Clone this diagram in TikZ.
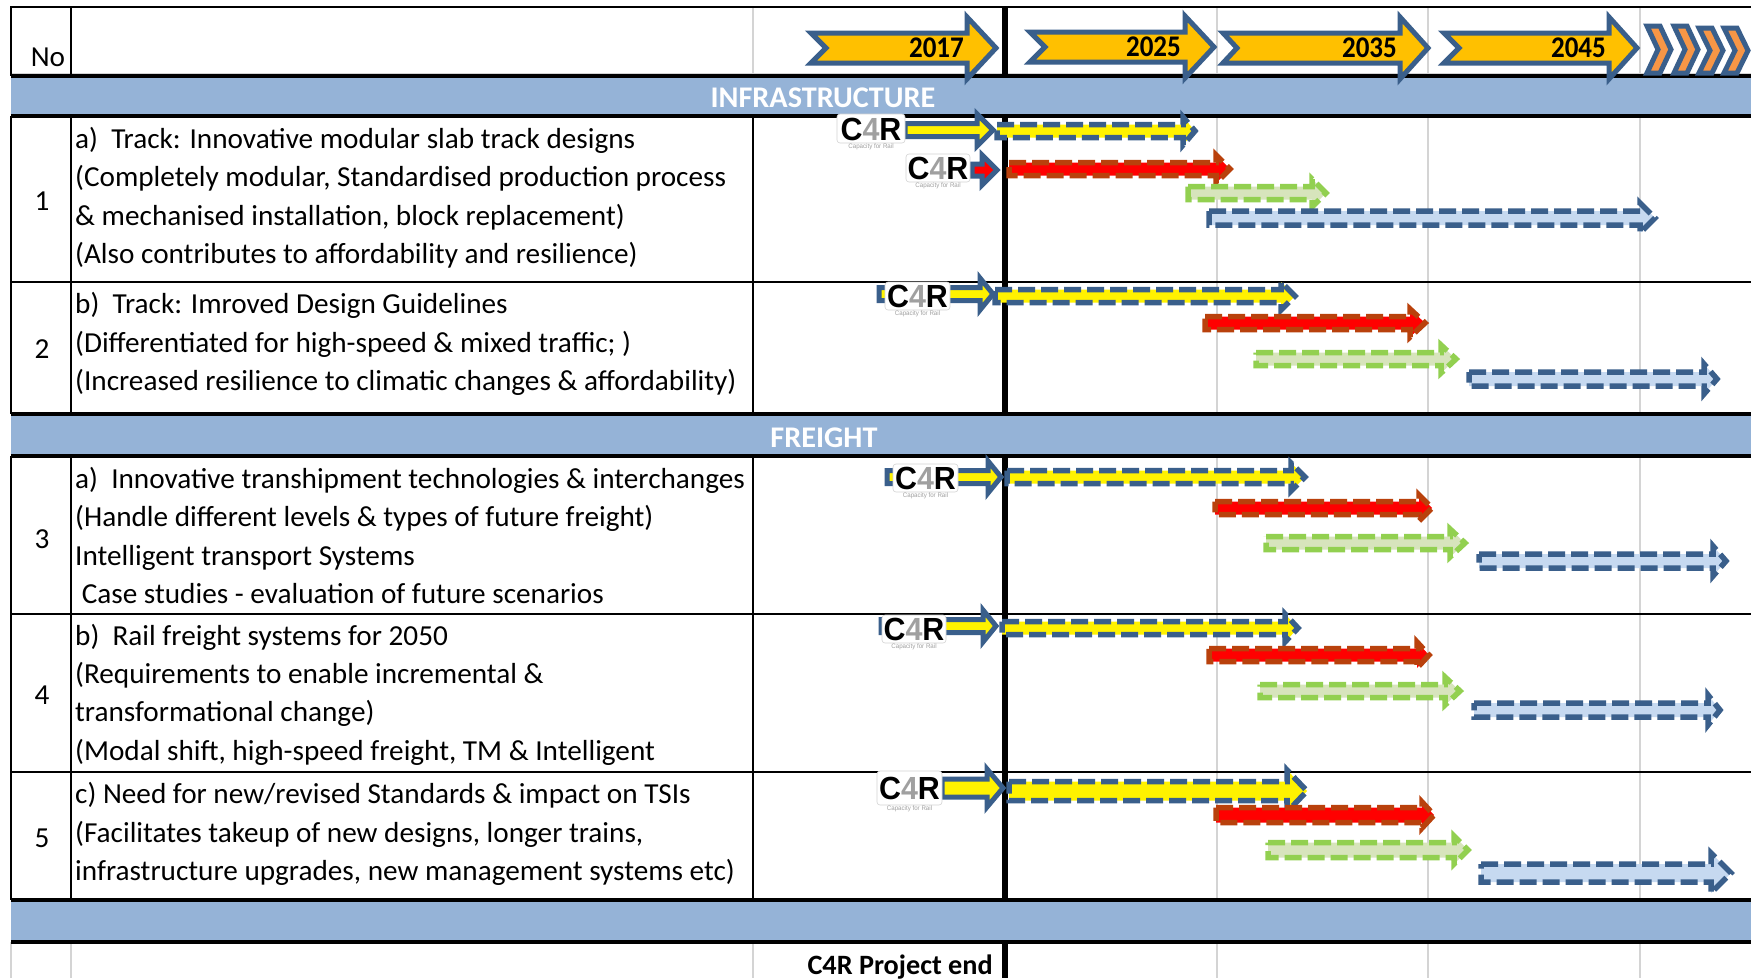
\documentclass[tikz,border=0pt]{standalone}
\usepackage{fontspec}
\setmainfont{Carlito}[FakeStretch=1.008]
\newfontfamily\yearfont{Carlito}[FakeStretch=0.9]
\newfontfamily\logofont{Liberation Sans}[FakeStretch=0.95]
\definecolor{bandblue}{HTML}{95B3D7}
\definecolor{edgeblue}{HTML}{3A5F8B}
\definecolor{yearfill}{HTML}{FFC000}
\definecolor{orangefill}{HTML}{F79646}
\definecolor{redfill}{HTML}{FF0000}
\definecolor{rededge}{HTML}{B9410C}
\definecolor{greenfill}{HTML}{D7E4BC}
\definecolor{greenedge}{HTML}{92D050}
\definecolor{bluefill}{HTML}{C6D9F0}
\definecolor{gridgrey}{HTML}{D4D4D4}
\definecolor{logogrey}{HTML}{A0A0A0}
\tikzset{
  rowtext/.style={anchor=base west,inner sep=0pt,font=\fontsize{29}{29}\selectfont},
  numtext/.style={inner sep=0pt,font=\fontsize{29}{29}\selectfont},
  bandtext/.style={inner sep=0pt,text=white,font=\fontsize{30}{30}\selectfont\bfseries},
  yeartext/.style={anchor=base east,inner sep=0pt,font=\fontsize{30}{30}\selectfont\yearfont\bfseries},
  endtext/.style={anchor=base east,inner sep=0pt,font=\fontsize{28}{28}\selectfont\bfseries},
  thinrule/.style={draw=black,line width=2pt},
  thickrule/.style={draw=black,line width=4pt},
  gridrule/.style={draw=gridgrey,line width=1.6pt},
  band/.style={fill=bandblue,draw=none},
  yeararrow/.style={fill=yearfill,draw=edgeblue,line width=5pt,miter limit=8},
  chevron/.style={fill=orangefill,draw=edgeblue,line width=5pt,miter limit=8},
  logobox/.style={fill=white,draw=gridgrey,line width=.6pt,rounded corners=3pt},
  logotext/.style={inner sep=0pt,text height=22pt,text depth=0pt,font=\fontsize{32}{32}\selectfont\logofont\bfseries},
  logosub/.style={inner sep=0pt,text=logogrey,font=\fontsize{6.5}{6.5}\selectfont\logofont},
}
% fill, edge, x0, head base, tip, cy, shaft half, head half
\newcommand{\solidarrow}[8]{%
  \draw[fill=#1,draw=#2,line width=5pt,miter limit=8]
    (#3,#6-#7) -- (#4,#6-#7) -- (#4,#6-#8) -- (#5,#6) -- (#4,#6+#8) -- (#4,#6+#7) -- (#3,#6+#7) -- cycle;}
\newcommand{\dasharrow}[8]{%
  \fill[#1] (#3,#6-#7) -- (#4,#6-#7) -- (#4,#6-#8) -- (#5+1,#6) -- (#4,#6+#8) -- (#4,#6+#7) -- (#3,#6+#7) -- cycle;
  \draw[draw=#2,line width=5.5pt,dash pattern=on 17pt off 6pt,miter limit=8]
    (#3,#6-#7) -- (#4,#6-#7) -- (#4,#6-#8) -- (#5+1,#6) -- (#4,#6+#8) -- (#4,#6+#7) -- (#3,#6+#7) -- cycle;}
% name, left, top, right, bottom
\newcommand{\clogo}[5]{%
  \path[logobox] (#2,#3) rectangle (#4,#5);
  \node[logotext] (#1) at ({(#2+#4)/2},{(#3+#5)/2+.5}) {C\textcolor{logogrey}{4}R};
  \node[logosub] (#1sub) at ({(#2+#4)/2},#5+3.5) {Capacity for Rail};}
\newcommand{\yeararr}[5]{% tail, notch, base, tip, cy
  \path[yeararrow] (#1,#5-15) -- (#3,#5-15) -- (#3,#5-31) -- (#4,#5) -- (#3,#5+31) -- (#3,#5+15) -- (#1,#5+15) -- (#2,#5) -- cycle;}
\newcommand{\chev}[3]{% left, top, bottom
  \path[chevron] (#1+3,#2) -- (#1+16,#2) -- (#1+27,{(#2+#3)/2}) -- (#1+16,#3) -- (#1+3,#3) -- (#1+14,{(#2+#3)/2}) -- cycle;}
\begin{document}
\begin{tikzpicture}[x=1pt,y=-1pt]
\useasboundingbox (0,0) rectangle (1751,978);
\fill[white] (0,0) rectangle (1751,978);
\begin{scope}
\clip (0,0) rectangle (1751,978);
% light grid
\draw[gridrule] (753,7) -- (753,76);
\draw[gridrule] (1217,7) -- (1217,978);
\draw[gridrule] (1428,7) -- (1428,978);
\draw[gridrule] (1640,7) -- (1640,978);
\draw[gridrule] (11,942) -- (11,978);
\draw[gridrule] (71,942) -- (71,978);
\draw[gridrule] (753,942) -- (753,978);
\draw[gridrule] (11,74) -- (1751,74);
% bands
\path[band] (11,77) rectangle (1751,114);
\path[band] (11,416) rectangle (1751,454);
\path[band] (11,902) rectangle (1751,941);
% rules
\draw[line width=2pt] (10,7) -- (1751,7);
\foreach \xx in {11,71} {
  \draw[thinrule] (\xx,7) -- (\xx,76);
  \draw[thinrule] (\xx,116) -- (\xx,414);
  \draw[thinrule] (\xx,456) -- (\xx,900);
}
\draw[thinrule] (753,116) -- (753,414);
\draw[thinrule] (753,456) -- (753,900);
\draw[thickrule] (11,76) -- (1751,76);
\draw[thickrule] (11,116) -- (1751,116);
\draw[thinrule] (11,282) -- (1751,282);
\draw[thickrule] (11,414) -- (1751,414);
\draw[thickrule] (11,456) -- (1751,456);
\draw[thinrule] (11,614) -- (1751,614);
\draw[thinrule] (11,772) -- (1751,772);
\draw[thickrule] (11,900) -- (1751,900);
\draw[thickrule] (11,942) -- (1751,942);
\draw[line width=6pt] (1004.5,7) -- (1004.5,76);
\draw[line width=6pt] (1004.5,116) -- (1004.5,414);
\draw[line width=6pt] (1004.5,456) -- (1004.5,900);
\draw[line width=6pt] (1004.5,942) -- (1004.5,978);
% year arrows
\yeararr{811}{826}{967}{996}{48}
\yeararr{1030}{1045}{1185}{1214}{47}
\yeararr{1223}{1237}{1400}{1428}{48}
\yeararr{1444}{1459}{1609}{1637}{48}
\node[yeartext] (y2017) at (964,57) {2017};
\node[yeartext] (y2025) at (1181,56) {2025};
\node[yeartext] (y2035) at (1397,57) {2035};
\node[yeartext] (y2045) at (1606,57) {2045};
\chev{1644}{26}{73}
\chev{1671}{26}{73}
\chev{1696}{28}{73}
\chev{1721}{28}{73}
% labels
\node[numtext] (no) at (48,57) {No};
\node[bandtext] (infra) at (823,98) {INFRASTRUCTURE};
\node[bandtext] (freight) at (824,438) {FREIGHT};
\node[numtext] (n1) at (42,201) {1};
\node[numtext] (n2) at (42,349) {2};
\node[numtext] (n3) at (42,539) {3};
\node[numtext] (n4) at (42,695) {4};
\node[numtext] (n5) at (42,838) {5};
\node[rowtext] (t1a) at (75,148) {a)\ \ Track: Innovative modular slab track designs};
\node[rowtext] (t1b) at (75,186) {(Completely modular, Standardised production process};
\node[rowtext] (t1c) at (75,225) {\&\ mechanised installation, block replacement)};
\node[rowtext] (t1d) at (75,263) {(Also contributes to affordability and resilience)};
\node[rowtext] (t2a) at (75,313) {b)\ \ Track: Imroved Design Guidelines};
\node[rowtext] (t2b) at (75,352) {(Differentiated for high-speed \&\ mixed traffic; )};
\node[rowtext] (t2c) at (75,390) {(Increased resilience to climatic changes \&\ affordability)};
\node[rowtext] (t3a) at (75,488) {a)\ \ Innovative transhipment technologies \&\ interchanges};
\node[rowtext] (t3b) at (75,526) {(Handle different levels \&\ types of future freight)};
\node[rowtext] (t3c) at (75,565) {Intelligent transport Systems};
\node[rowtext] (t3d) at (75,603) {\ Case studies - evaluation of future scenarios};
\node[rowtext] (t4a) at (75,645) {b)\ \ Rail freight systems for 2050};
\node[rowtext] (t4b) at (75,683) {(Requirements to enable incremental \&};
\node[rowtext] (t4c) at (75,721) {transformational change)};
\node[rowtext] (t4d) at (75,760) {(Modal shift, high-speed freight, TM \&\ Intelligent};
\node[rowtext] (t5a) at (75,803) {c) Need for new/revised Standards \&\ impact on TSIs};
\node[rowtext] (t5b) at (75,842) {(Facilitates takeup of new designs, longer trains,};
\node[rowtext] (t5c) at (75,880) {infrastructure upgrades, new management systems etc)};
\node[endtext] (pend) at (993,974) {C4R Project end};
% row 1
\solidarrow{yellow}{edgeblue}{905}{977}{993}{130}{6.5}{16}
\clogo{lg1}{837}{114}{905}{143}
\dasharrow{yellow}{edgeblue}{997}{1183}{1194}{131}{6.5}{14}
\solidarrow{redfill}{edgeblue}{972}{982}{997}{170}{6}{15}
\clogo{lg2}{906}{154}{970}{182}
\dasharrow{redfill}{rededge}{1009}{1216}{1229}{169}{6.5}{14}
\dasharrow{greenfill}{greenedge}{1188}{1312}{1325}{193}{6.5}{14}
\dasharrow{bluefill}{edgeblue}{1209}{1640}{1654}{218}{7}{15}
% row 2
\solidarrow{yellow}{edgeblue}{879}{980}{993}{294}{6.5}{16}
\clogo{lg3}{885}{282}{950}{310}
\dasharrow{yellow}{edgeblue}{995}{1281}{1294}{296}{6.5}{14}
\dasharrow{redfill}{rededge}{1205}{1410}{1424}{323}{6.5}{14}
\dasharrow{greenfill}{greenedge}{1256}{1441}{1455}{359}{6.5}{14}
\dasharrow{bluefill}{edgeblue}{1469}{1704}{1716}{379}{7}{15}
% row 3
\solidarrow{yellow}{edgeblue}{887}{988}{1001}{477}{6.5}{16}
\clogo{lg4}{893}{464}{958}{492}
\dasharrow{yellow}{edgeblue}{1007}{1291}{1304}{477}{6.5}{14}
\dasharrow{redfill}{rededge}{1215}{1419}{1431}{508}{6.5}{13}
\dasharrow{greenfill}{greenedge}{1266}{1450}{1464}{543}{6.5}{14}
\dasharrow{bluefill}{edgeblue}{1479}{1713}{1725}{561}{7}{15}
% row 4
\solidarrow{yellow}{edgeblue}{881}{983}{996}{626}{6.5}{16}
\clogo{lg5}{882}{615}{946}{643}
\dasharrow{yellow}{edgeblue}{1002}{1285}{1297}{628}{6.5}{14}
\dasharrow{redfill}{rededge}{1209}{1417}{1428}{655}{6.5}{13}
\dasharrow{greenfill}{greenedge}{1260}{1445}{1459}{691}{6.5}{14}
\dasharrow{bluefill}{edgeblue}{1474}{1708}{1719}{710}{7}{15}
% row 5
\solidarrow{yellow}{edgeblue}{942}{987}{1003}{788}{9}{19}
\clogo{lg6}{877}{771}{942}{805}
\dasharrow{yellow}{edgeblue}{1009}{1287}{1306}{791}{9.5}{21}
\dasharrow{redfill}{rededge}{1216}{1422}{1433}{815}{7.5}{13}
\dasharrow{greenfill}{greenedge}{1268}{1454}{1467}{850}{7.5}{14}
\dasharrow{bluefill}{edgeblue}{1481}{1711}{1730}{873}{9}{20}
\end{scope}
\end{tikzpicture}
\end{document}
